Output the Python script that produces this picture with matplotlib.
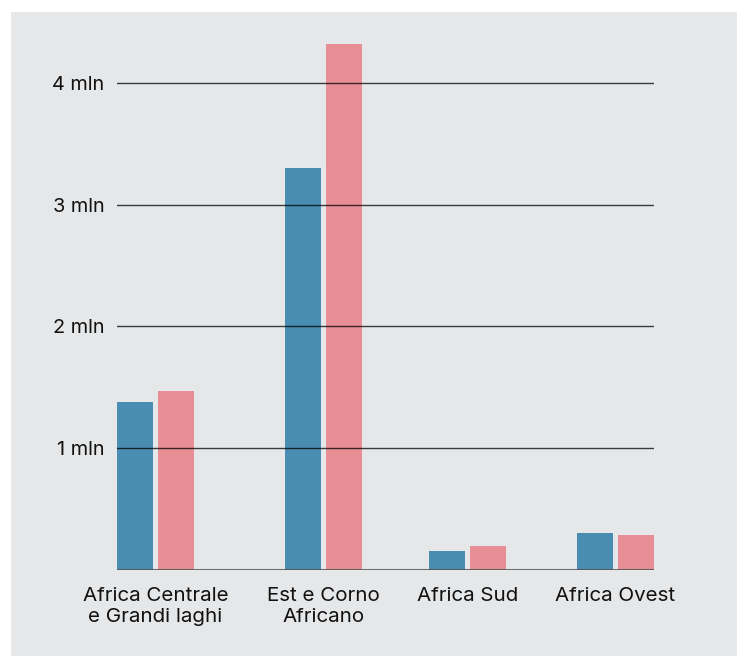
import matplotlib
matplotlib.use("Agg")
import matplotlib.pyplot as plt
from matplotlib.patches import Rectangle
import numpy as np

categories = ["Africa Centrale\ne Grandi laghi", "Est e Corno\nAfricano", "Africa Sud", "Africa Ovest"]
series_a = [1.38, 3.30, 0.157, 0.305]   # blue
series_b = [1.47, 4.32, 0.198, 0.289]   # pink
yticks = [1, 2, 3, 4]
ytick_labels = ["1 mln", "2 mln", "3 mln", "4 mln"]

positions = np.array([0.0, 1.15, 2.137, 3.151])

W, H = 737, 656
fig = plt.figure(figsize=(W / 100, H / 100), dpi=100)
fig.patch.set_facecolor("white")
bg = Rectangle((11 / W, 0), 1 - 11 / W, (H - 12) / H,
               transform=fig.transFigure, facecolor="#e6e7e9",
               edgecolor="none", zorder=-10)
fig.patches.append(bg)

# axes geometry in pixels
x0, x1 = 117, 654
y_zero, px_per_unit = 570.2, 121.9
ymax = 4.5
y_top = y_zero - ymax * px_per_unit
ax = fig.add_axes([x0 / W, (H - y_zero) / H, (x1 - x0) / W, (y_zero - y_top) / H])
ax.set_facecolor("none")
ax.set_zorder(5)

unit = 146.0
bw = 36 / unit
off = 20.5 / unit
ax.bar(positions - off, series_a, width=bw, color="#4a8db2", zorder=2)
ax.bar(positions + off, series_b, width=bw, color="#e88f95", zorder=2)

ax.set_xlim((x0 - 155.5) / unit, (x1 - 155.5) / unit)
ax.set_ylim(0, ymax)

for y in yticks:
    ax.axhline(y, color="black", alpha=0.75, lw=1.0, zorder=3)
ax.axhline(0, color="#555555", alpha=0.85, lw=2.2, zorder=3)

for s in ax.spines.values():
    s.set_visible(False)

font = "Inter"
ax.set_yticks(yticks)
ax.set_yticklabels(ytick_labels, fontsize=14.3, color="#111111", family=font)
ax.tick_params(axis="y", length=0, pad=9)
ax.set_xticks(positions)
ax.set_xticklabels(categories, fontsize=14.8, color="#111111", family=font,
                   linespacing=1.25)
ax.tick_params(axis="x", length=0, pad=12)

fig.savefig("out.png", dpi=100)
